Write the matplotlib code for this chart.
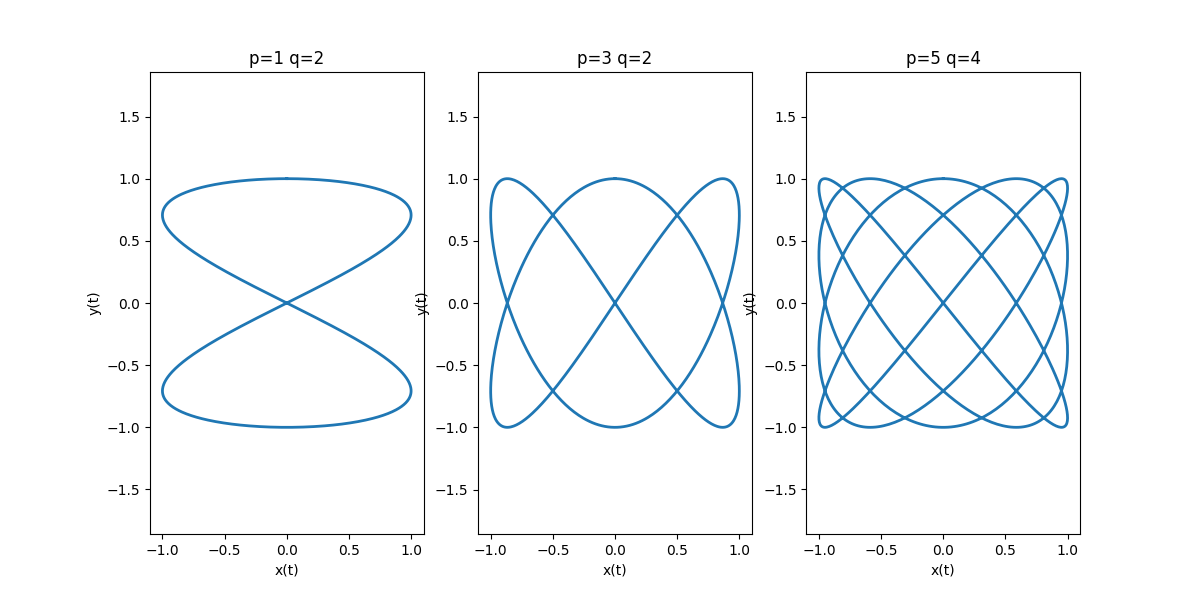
import numpy as np
import matplotlib.pyplot as plt

# frequency pairs for each panel
p_values = [1, 3, 5]
q_values = [2, 2, 4]

t = np.linspace(0, 2 * np.pi, 1000)

fig, axes = plt.subplots(1, 3, figsize=(12, 6), dpi=100)

for ax, p, q in zip(axes, p_values, q_values):
    x = np.sin(q * t)
    y = np.cos(p * t)
    ax.plot(x, y, linewidth=2)
    ax.set_aspect('equal', adjustable='datalim')
    ax.set_title(f"p={p} q={q}")
    ax.set_xlabel("x(t)")
    ax.set_ylabel("y(t)")

fig.savefig("out.png")
